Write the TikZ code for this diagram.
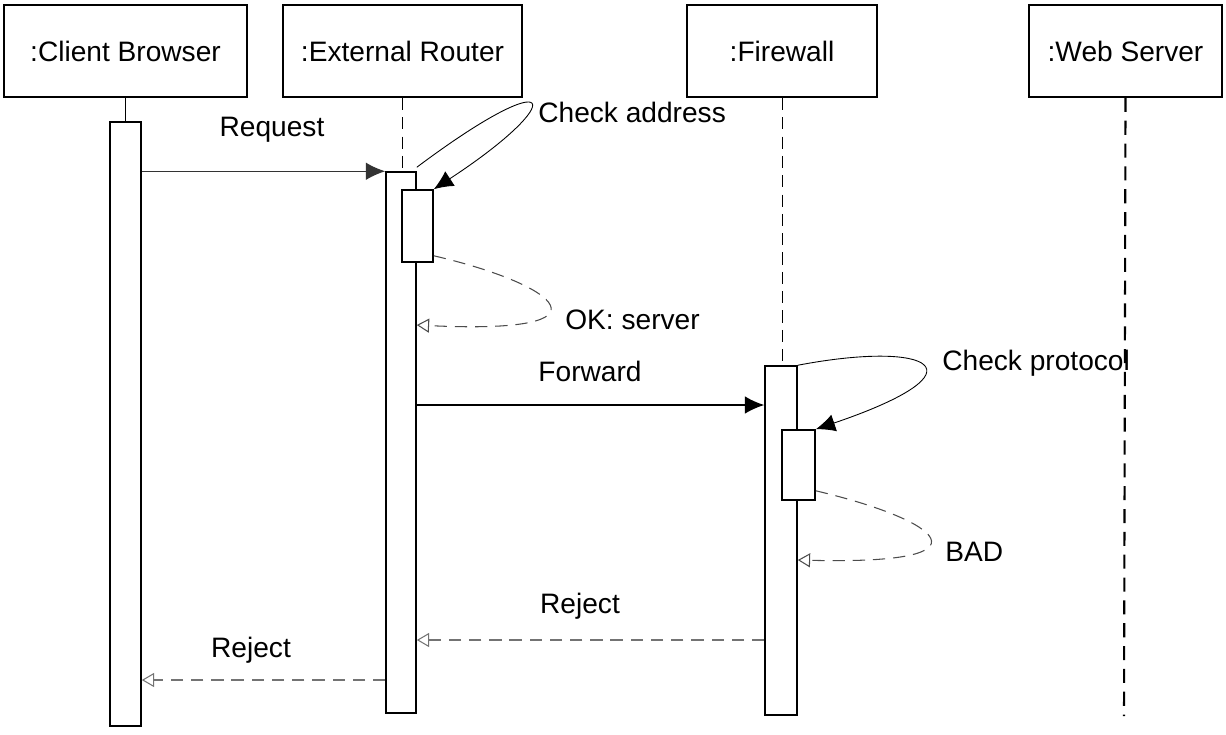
\documentclass[tikz,border=0pt]{standalone}
\usepackage{fontspec}
\setmainfont{Liberation Sans}
\usetikzlibrary{arrows.meta}
\tikzset{>=Latex}

\begin{document}
\begin{tikzpicture}[x=0.02cm, y=-0.02cm, font=\fontsize{16}{19}\selectfont,
        object/.style={draw=black, line width=1pt, minimum height=1.84cm},
        activation/.style={draw=black, fill=white, line width=0.9pt},
        lifeline/.style={draw=black, dash pattern=on 7pt off 4pt, line width=0.5pt},
        label/.style={inner sep=0pt},
        call/.style={-{Latex[length=11pt, width=10pt]}, line width=0.7pt},
        selfcall/.style={-{Latex[length=11pt, width=10pt]}, line width=0.5pt},
        reply/.style={-{Triangle[open, length=7pt, width=8pt]}, black!55, line width=0.6pt,
                dash pattern=on 7pt off 4.5pt}]
        \useasboundingbox (0,0) rectangle (1226,734);
        % objects
        \node[object, minimum width=4.86cm] (cb) at (125.5,51) {:Client Browser};
        \node[object, minimum width=4.78cm] (er) at (402.5,51) {:External Router};
        \node[object, minimum width=3.80cm] (fw) at (782,51) {:Firewall};
        \node[object, minimum width=3.86cm] (ws) at (1125.5,51) {:Web Server};
        \coordinate (wsEnd) at (1124,716);

        % lifelines
        \draw[line width=0.5pt] (cb.south) -- (125.5,122);
        \draw[lifeline] (er.south) -- (402.5,172);
        \draw[lifeline] (fw.south) -- (782,366);
        \draw[lifeline, line width=1.2pt, dash pattern=on 8pt off 5pt] (ws.south) -- (wsEnd);

        % activations
        \node[activation, minimum width=0.62cm, minimum height=12.08cm] (cbAct) at (125.5,424) {};
        \node[activation, minimum width=0.60cm, minimum height=10.82cm] (erAct) at (401,442.5) {};
        \node[activation, minimum width=0.62cm, minimum height=1.44cm] (erSub) at (417.5,226) {};
        \node[activation, minimum width=0.64cm, minimum height=6.98cm] (fwAct) at (781,540.5) {};
        \node[activation, minimum width=0.66cm, minimum height=1.40cm] (fwSub) at (798.5,465) {};

        \coordinate (okEnd) at (0,325);
        \coordinate (fwd) at (0,405);
        \coordinate (badEnd) at (0,560);
        \coordinate (rej1) at (0,640);
        \coordinate (rej2) at (0,680);

        % messages
        \draw[call, black!80] (cbAct.east |- erAct.north west) -- (erAct.north west);
        \node[label] (request) at (272,130) {Request};

        \draw[selfcall] ([yshift=0.08cm]erAct.north east) .. controls (560,60) and (570,100) ..
                (erSub.north east);
        \node[label, anchor=west] (check1) at (538,112) {Check address};

        \draw[reply, black!70] ([yshift=0.14cm]erSub.south east) .. controls (560,285) and (620,335) ..
                (erAct.east |- okEnd);
        \node[label, anchor=west] (ok) at (565,320) {OK: server};

        \draw[call] (erAct.east |- fwd) -- (fwAct.west |- fwd);
        \node[label] (forward) at (590,371) {Forward};

        \draw[selfcall] (fwAct.north east) .. controls (930,340) and (990,370) ..
                (fwSub.north east);
        \node[label, anchor=west] (check2) at (942,363) {Check protocol};

        \draw[reply, black!70] ([yshift=0.2cm]fwSub.south east) .. controls (940,520) and (1000,565) ..
                (fwAct.east |- badEnd);
        \node[label, anchor=west] (bad) at (945,552) {BAD};

        \draw[reply] (fwAct.west |- rej1) -- (erAct.east |- rej1);
        \node[label] (reject1) at (580,606) {Reject};

        \draw[reply] (erAct.west |- rej2) -- (cbAct.east |- rej2);
        \node[label] (reject2) at (251,650) {Reject};
\end{tikzpicture}
\end{document}
